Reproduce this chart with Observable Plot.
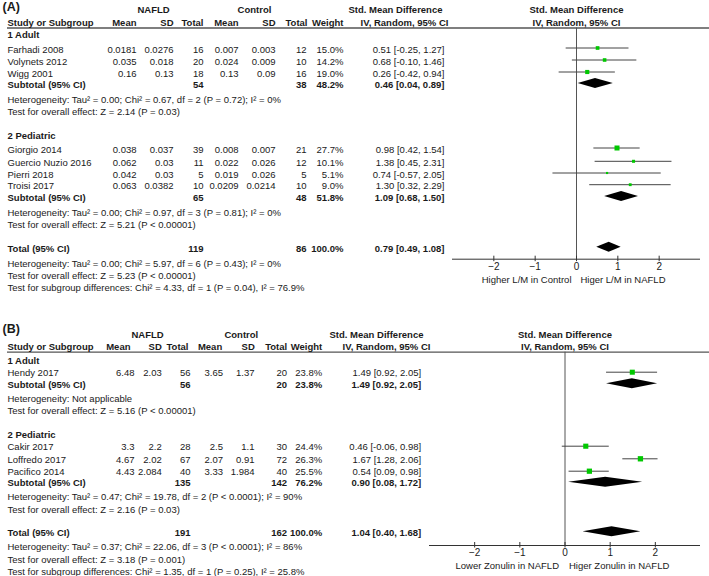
<!DOCTYPE html>
<html><head><meta charset="utf-8">
<script src="https://cdn.jsdelivr.net/npm/d3@7"></script>
<script src="https://cdn.jsdelivr.net/npm/@observablehq/plot@0.6"></script>
<style>
body{margin:0;background:#fff;}
#chart{width:709px;}
#chart svg{display:block;}
</style></head><body><div id="chart"></div>
<script>
// ================= DATA: Panel A (L/M ratio) =================
const studiesA   = ["Farhadi 2008","Volynets 2012","Wigg 2001","Giorgio 2014","Guercio Nuzio 2016","Pierri 2018","Troisi 2017"];
const groupOfA   = [0,0,0,1,1,1,1];
const meanNafldA = [0.0181,0.035,0.16,0.038,0.062,0.042,0.063];
const sdNafldA   = [0.0276,0.018,0.13,0.037,0.03,0.03,0.0382];
const nNafldA    = [16,20,18,39,11,5,10];
const meanCtrlA  = [0.007,0.024,0.13,0.008,0.022,0.019,0.0209];
const sdCtrlA    = [0.003,0.009,0.09,0.007,0.026,0.026,0.0214];
const nCtrlA     = [12,10,16,21,12,5,10];
const weightA    = [15.0,14.2,19.0,27.7,10.1,5.1,9.0];
const smdA       = [0.51,0.68,0.26,0.98,1.38,0.74,1.30];
const loA        = [-0.25,-0.10,-0.42,0.42,0.45,-0.57,0.32];
const hiA        = [1.27,1.46,0.94,1.54,2.31,2.05,2.29];
const groupsA    = ["1 Adult","2 Pediatric"];
const subNafldA  = [54,65];
const subCtrlA   = [38,48];
const subWeightA = [48.2,51.8];
const subSmdA    = [0.46,1.09];
const subLoA     = [0.04,0.68];
const subHiA     = [0.89,1.50];
const subHetA    = ["Heterogeneity: Tau² = 0.00; Chi² = 0.67, df = 2 (P = 0.72); I² = 0%",
                    "Heterogeneity: Tau² = 0.00; Chi² = 0.97, df = 3 (P = 0.81); I² = 0%"];
const subTestA   = ["Test for overall effect: Z = 2.14 (P = 0.03)",
                    "Test for overall effect: Z = 5.21 (P < 0.00001)"];
const totalA     = [119, 86, 100.0, 0.79, 0.49, 1.08]; // nNAFLD, nControl, weight, smd, lo, hi
const totalNotesA = ["Heterogeneity: Tau² = 0.00; Chi² = 5.97, df = 6 (P = 0.43); I² = 0%",
                     "Test for overall effect: Z = 5.23 (P < 0.00001)",
                     "Test for subgroup differences: Chi² = 4.33, df = 1 (P = 0.04), I² = 76.9%"];
const favoursA   = ["Higher L/M in Control","Higer L/M in NAFLD"];

// ================= DATA: Panel B (Zonulin) =================
const studiesB   = ["Hendy 2017","Cakir 2017","Loffredo 2017","Pacifico 2014"];
const groupOfB   = [0,1,1,1];
const meanNafldB = [6.48,3.3,4.67,4.43];
const sdNafldB   = [2.03,2.2,2.02,2.084];
const nNafldB    = [56,28,67,40];
const meanCtrlB  = [3.65,2.5,2.07,3.33];
const sdCtrlB    = [1.37,1.1,0.91,1.984];
const nCtrlB     = [20,30,72,40];
const weightB    = [23.8,24.4,26.3,25.5];
const smdB       = [1.49,0.46,1.67,0.54];
const loB        = [0.92,-0.06,1.28,0.09];
const hiB        = [2.05,0.98,2.06,0.98];
const groupsB    = ["1 Adult","2 Pediatric"];
const subNafldB  = [56,135];
const subCtrlB   = [20,142];
const subWeightB = [23.8,76.2];
const subSmdB    = [1.49,0.90];
const subLoB     = [0.92,0.08];
const subHiB     = [2.05,1.72];
const subHetB    = ["Heterogeneity: Not applicable",
                    "Heterogeneity: Tau² = 0.47; Chi² = 19.78, df = 2 (P < 0.0001); I² = 90%"];
const subTestB   = ["Test for overall effect: Z = 5.16 (P < 0.00001)",
                    "Test for overall effect: Z = 2.16 (P = 0.03)"];
const totalB     = [191, 162, 100.0, 1.04, 0.40, 1.68];
const totalNotesB = ["Heterogeneity: Tau² = 0.37; Chi² = 22.06, df = 3 (P < 0.0001); I² = 86%",
                     "Test for overall effect: Z = 3.18 (P = 0.001)",
                     "Test for subgroup differences: Chi² = 1.35, df = 1 (P = 0.25), I² = 25.8%"];
const favoursB   = ["Lower Zonulin in NAFLD","Higer Zonulin in NAFLD"];

// ================= shared labels =================
const colHeaders = ["Study or Subgroup","Mean","SD","Total","Mean","SD","Total","Weight"];
const smdHeader  = ["Std. Mean Difference","IV, Random, 95% CI"];
const tickValues = [-2,-1,0,1,2];
const xDomain    = [-3,3];

// ================= LAYOUT (pixels within each panel) =================
const layoutA = {
  tag:"(A)", height:300, xRange:[452,700], axisY:258.7, rMax:2.94, markShift:-1.5,
  tagY:6, head1:9, head2:22, headLine:27.5,
  group:[34,135], studies:[49,61,73,149,162.3,174,185.7],
  sub:[84.5,197.5], het:[99,212.2], test:[111,224.2],
  total:248.3, notes:[263.3,275,287], tickLabelPad:4, titleY:279.5, favDx:[-5,4],
  cols:{study:7,m1:136,s1:173,n1:203,m2:238,s2:275,n2:306,w:343,smd:444},
  headCols:{study:7,m1:136,s1:173,n1:203,m2:238,s2:275,n2:307,w:343},
  nafldX:153, ctrlX:254, smdHead1X:395, smdHead2X:404
};
const layoutB = {
  tag:"(B)", height:276, xRange:[429,700], axisY:245, rMax:3.2, markShift:-1,
  tagY:28, head1:34, head2:46.7, headLine:51.7,
  group:[60,134], studies:[72.7,146.7,159.3,171.7],
  sub:[84.3,182.7], het:[98.3,196.7], test:[110,209.3],
  total:232.3, notes:[246.7,259.3,271.7], tickLabelPad:3.5, titleY:265, favDx:[-6,4],
  cols:{study:7,m1:134,s1:161.3,n1:190,m2:222.5,s2:254,n2:286.5,w:321.7,smd:420.7},
  headCols:{study:7,m1:130,s1:161.3,n1:188,m2:221.7,s2:254.3,n2:286.7,w:321.7},
  nafldX:147, ctrlX:240.8, smdHead1X:376, smdHead2X:386
};

const FONT = "'Liberation Sans', Arial, Helvetica, sans-serif";
const FS = 9.5;
const TXT = "#1a1a1a";
const GREEN = "#00c800";
const f2 = v => v.toFixed(2);
const ci = (e,l,h) => `${f2(e)} [${f2(l)}, ${f2(h)}]`;

function buildPanel(D, L) {
  const rows = [];
  const forest = [];
  const diamonds = [];
  const addDiamond = (id, y, e, l, h) => {
    const hh = 5;
    diamonds.push({id, x:l, y1:y, y2:y}, {id, x:e, y1:y-hh, y2:y+hh}, {id, x:h, y1:y, y2:y});
  };
  // header row 2
  const hc = L.headCols;
  const colKeys = ["study","m1","s1","n1","m2","s2","n2","w"];
  const head = {y:L.head2, bold:true, header:true};
  colKeys.forEach((k,i) => head[k] = colHeaders[i]);
  D.groups.forEach((g, gi) => {
    rows.push({y:L.group[gi], bold:true, study:g});
    D.studies.forEach((s, i) => {
      if (D.groupOf[i] !== gi) return;
      const y = L.studies[i];
      rows.push({y, bold:false, study:s, m1:String(D.m1[i]), s1:String(D.s1[i]), n1:String(D.n1[i]),
        m2:String(D.m2[i]), s2:String(D.s2[i]), n2:String(D.n2[i]), w:D.w[i].toFixed(1)+"%",
        smd:ci(D.smd[i], D.lo[i], D.hi[i])});
      forest.push({y:y+L.markShift, est:D.smd[i], lo:D.lo[i], hi:D.hi[i], w:D.w[i]});
    });
    rows.push({y:L.sub[gi], bold:true, study:"Subtotal (95% CI)", n1:String(D.subN1[gi]), n2:String(D.subN2[gi]),
      w:D.subW[gi].toFixed(1)+"%", smd:ci(D.subSmd[gi], D.subLo[gi], D.subHi[gi])});
    addDiamond(gi, L.sub[gi]+L.markShift, D.subSmd[gi], D.subLo[gi], D.subHi[gi]);
    rows.push({y:L.het[gi], bold:false, study:D.subHet[gi]});
    rows.push({y:L.test[gi], bold:false, study:D.subTest[gi]});
  });
  const T = D.total;
  rows.push({y:L.total, bold:true, study:"Total (95% CI)", n1:String(T[0]), n2:String(T[1]),
    w:T[2].toFixed(1)+"%", smd:ci(T[3],T[4],T[5])});
  addDiamond(9, L.total+L.markShift, T[3], T[4], T[5]);
  D.notes.forEach((n, i) => rows.push({y:L.notes[i], bold:false, study:n}));

  const left = 7;
  const textMarks = [];
  for (const k of ["study","m1","s1","n1","m2","s2","n2","w","smd"]) {
    for (const b of [true,false]) {
      const data = rows.filter(r => r.bold === b && r[k] != null);
      if (!data.length) continue;
      textMarks.push(Plot.text(data, {y:"y", text:k, frameAnchor:"left", dx:L.cols[k]-left + (k==="study" && b && data.length && false ? 1 : 0),
        textAnchor: k==="study" ? "start" : "end", fontWeight: b ? "bold" : "normal", fontSize:FS, fill:TXT}));
    }
  }
  // header row 2 (bold)
  for (const k of colKeys) {
    textMarks.push(Plot.text([head], {y:"y", text:k, frameAnchor:"left", dx:hc[k]-left,
      textAnchor: k==="study" ? "start" : "end", fontWeight:"bold", fontSize:FS, fill:TXT}));
  }
  // group headings (row 1)
  const h1 = [
    {t:"NAFLD", x:L.nafldX, y:L.head1}, {t:"Control", x:L.ctrlX, y:L.head1},
    {t:smdHeader[0], x:L.smdHead1X, y:L.head1}, {t:smdHeader[1], x:L.smdHead2X, y:L.head2}
  ];
  for (const h of h1) {
    textMarks.push(Plot.text([h], {y:"y", text:"t", frameAnchor:"left", dx:h.x-left, textAnchor:"middle",
      fontWeight:"bold", fontSize:FS, fill:TXT}));
  }

  return Plot.plot({
    width:709, height:L.height,
    marginLeft:left, marginRight:0, marginTop:0, marginBottom:L.height - L.axisY,
    x:{domain:xDomain, range:L.xRange, label:null},
    y:{domain:[0, L.axisY], range:[0, L.axisY], axis:null},
    r:{type:"sqrt", domain:[0,30], range:[0, L.rMax]},
    style:{fontFamily:FONT, fontSize:FS+"px", background:"#fff", color:TXT, overflow:"visible"},
    marks:[
      Plot.text([L.tag], {text:d=>d, y:L.tagY, frameAnchor:"left", dx:-5, textAnchor:"start", fontWeight:"bold", fontSize:12.5, fill:TXT}),
      Plot.ruleY([L.headLine], {stroke:"#555", strokeWidth:1.3}),
      Plot.ruleX([0], {y1:L.headLine, y2:L.axisY, stroke:"#555", strokeWidth:1}),
      Plot.ruleY([L.axisY], {x1:xDomain[0], x2:xDomain[1], stroke:"#333", strokeWidth:1}),
      Plot.ruleX(tickValues, {y1:L.axisY-3, y2:L.axisY+2.5, stroke:"#333", strokeWidth:1}),
      Plot.axisX(tickValues, {anchor:"bottom", tickSize:0, tickPadding:L.tickLabelPad, fontSize:10, label:null, fill:TXT}),
      Plot.text([0], {x:d=>d, y:L.head1, text:()=>smdHeader[0], fontWeight:"bold", fontSize:FS, fill:TXT}),
      Plot.text([0], {x:d=>d, y:L.head2, text:()=>smdHeader[1], fontWeight:"bold", fontSize:FS, fill:TXT}),
      Plot.text([0], {x:d=>d, y:L.titleY, text:()=>D.favours[0], textAnchor:"end", dx:L.favDx[0], fontSize:FS, fill:TXT}),
      Plot.text([0], {x:d=>d, y:L.titleY, text:()=>D.favours[1], textAnchor:"start", dx:L.favDx[1], fontSize:FS, fill:TXT}),
      Plot.ruleY(forest, {y:"y", x1:"lo", x2:"hi", stroke:"#444", strokeWidth:1}),
      Plot.dot(forest, {x:"est", y:"y", r:"w", symbol:"square", fill:GREEN}),
      Plot.areaY(diamonds, {x:"x", y1:"y1", y2:"y2", z:"id", fill:"#000", curve:"linear"}),
      ...textMarks
    ]
  });
}

const DA = {studies:studiesA, groupOf:groupOfA, m1:meanNafldA, s1:sdNafldA, n1:nNafldA, m2:meanCtrlA, s2:sdCtrlA, n2:nCtrlA,
  w:weightA, smd:smdA, lo:loA, hi:hiA, groups:groupsA, subN1:subNafldA, subN2:subCtrlA, subW:subWeightA,
  subSmd:subSmdA, subLo:subLoA, subHi:subHiA, subHet:subHetA, subTest:subTestA, total:totalA, notes:totalNotesA, favours:favoursA};
const DB = {studies:studiesB, groupOf:groupOfB, m1:meanNafldB, s1:sdNafldB, n1:nNafldB, m2:meanCtrlB, s2:sdCtrlB, n2:nCtrlB,
  w:weightB, smd:smdB, lo:loB, hi:hiB, groups:groupsB, subN1:subNafldB, subN2:subCtrlB, subW:subWeightB,
  subSmd:subSmdB, subLo:subLoB, subHi:subHiB, subHet:subHetB, subTest:subTestB, total:totalB, notes:totalNotesB, favours:favoursB};

const chart = document.getElementById("chart");
chart.appendChild(buildPanel(DA, layoutA));
chart.appendChild(buildPanel(DB, layoutB));
</script></body></html>
